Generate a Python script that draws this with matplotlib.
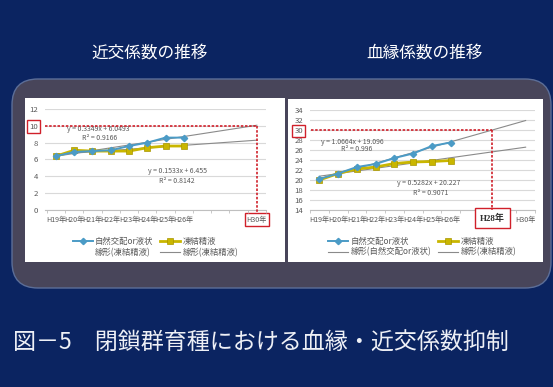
import matplotlib
matplotlib.use("Agg")
import matplotlib.pyplot as plt
from matplotlib.patches import FancyBboxPatch, Rectangle
from matplotlib.lines import Line2D
import numpy as np

plt.rcParams['font.family'] = ['Noto Sans CJK JP', 'DejaVu Sans']

# ---------------- data ----------------
categories = ['H19年', 'H20年', 'H21年', 'H22年', 'H23年', 'H24年', 'H25年', 'H26年',
              '', '', '', 'H30年']
inbreed_natural = [6.4, 6.9, 7.0, 7.1, 7.6, 8.0, 8.6, 8.6]
inbreed_frozen = [6.4, 7.1, 7.0, 7.0, 7.0, 7.4, 7.6, 7.6]
inbreed_trend_natural = (0.3349, 6.0493)
inbreed_trend_frozen = (0.1533, 6.455)
inbreed_yticks = [0, 2, 4, 6, 8, 10, 12]

kin_natural = [20.2, 21.3, 22.6, 23.2, 24.4, 25.3, 26.8, 27.5]
kin_frozen = [20.0, 21.3, 22.2, 22.6, 23.3, 23.6, 23.7, 23.9]
kin_trend_natural = (1.0664, 19.096)
kin_trend_frozen = (0.5282, 20.227)
kin_yticks = [14, 16, 18, 20, 22, 24, 26, 28, 30, 32, 34]

inbreed_target = 10
kin_target = 30

W, H = 553, 387
fig = plt.figure(figsize=(W / 100, H / 100), dpi=100)
fig.patch.set_facecolor('#0b2461')

# background axes in pixel units
bg = fig.add_axes([0, 0, 1, 1])
bg.set_xlim(0, W)
bg.set_ylim(H, 0)
bg.axis('off')
bg.add_patch(FancyBboxPatch((12, 79), 539, 209,
                            boxstyle='round,pad=0,rounding_size=26',
                            fc='#48455a', ec='#5c6e98', lw=1.0))
bg.add_patch(Rectangle((25, 98), 260, 164, fc='white', ec='none'))
bg.add_patch(Rectangle((288, 99), 255, 163, fc='white', ec='none'))
bg.text(150, 53, '近交係数の推移', color='white', fontsize=12, ha='center', va='center')
bg.text(425, 53, '血縁係数の推移', color='white', fontsize=12, ha='center', va='center')
bg.text(13, 343, '図－5　閉鎖群育種における血縁・近交係数抑制', color='#eef0f6',
        fontsize=16.6, ha='left', va='center')


def px_axes(x0, x1, ytop, ybot):
    return fig.add_axes([x0 / W, 1 - ybot / H, (x1 - x0) / W, (ybot - ytop) / H])


BLUE = '#4b9bc6'
YELLOW = '#c9b600'
GRAY = '#8a8a8a'
RED = '#d0202a'
TXT = '#595959'
EQ_FS = 5.0


def draw_chart(ax, natural, frozen, tn, tf, yticks, xlim):
    n = len(categories)
    x = np.arange(len(natural))
    xt = np.arange(n)
    ax.set_facecolor('white')
    ax.set_xlim(*xlim)
    ax.set_ylim(yticks[0], yticks[-1])
    ax.set_yticks(yticks)
    ax.set_xticks(xt)
    ax.set_xticklabels(categories)
    ax.set_xticks(np.arange(-0.5, n - 0.4, 1), minor=True)
    ax.grid(axis='y', color='#d9d9d9', lw=0.8)
    ax.set_axisbelow(True)
    for s in ['top', 'right', 'left']:
        ax.spines[s].set_visible(False)
    ax.spines['bottom'].set_color('#bfbfbf')
    ax.spines['bottom'].set_linewidth(0.8)
    ax.tick_params(axis='x', which='major', length=0, labelsize=5.1, labelcolor=TXT, pad=4)
    ax.tick_params(axis='x', which='minor', length=2.5, color='#bfbfbf')
    ax.tick_params(axis='y', length=0, labelsize=5.6, labelcolor=TXT, pad=5)
    lt1, = ax.plot(xt, tn[0] * (xt + 1) + tn[1], color=GRAY, lw=0.8, zorder=2)
    lt2, = ax.plot(xt, tf[0] * (xt + 1) + tf[1], color=GRAY, lw=0.8, zorder=2)
    l1, = ax.plot(x, natural, color=BLUE, lw=1.4, marker='D', ms=3.2,
                  mfc=BLUE, mec=BLUE, zorder=4)
    l2, = ax.plot(x, frozen, color=YELLOW, lw=2.0, marker='s', ms=5.0,
                  mfc=YELLOW, mec='#a89600', mew=0.5, zorder=3)
    return l1, l2, lt1, lt2


# ---------------- left chart ----------------
axL = px_axes(45, 266, 109, 210)
l1, l2, lt1, lt2 = draw_chart(axL, inbreed_natural, inbreed_frozen,
                              inbreed_trend_natural, inbreed_trend_frozen,
                              inbreed_yticks, (-0.6, 11.0))
axL.text(2.34, 9.62, 'y = 0.3349x + 6.0493', fontsize=EQ_FS, color=TXT, ha='center', va='center')
axL.text(2.39, 8.55, 'R² = 0.9166', fontsize=EQ_FS, color=TXT, ha='center', va='center')
axL.text(6.64, 4.63, 'y = 0.1533x + 6.455', fontsize=EQ_FS, color=TXT, ha='center', va='center')
axL.text(6.64, 3.44, 'R² = 0.8142', fontsize=EQ_FS, color=TXT, ha='center', va='center')
axL.plot([-0.6, 11], [inbreed_target, inbreed_target], color=RED, lw=1.2,
         ls=(0, (1.5, 1)), clip_on=False, zorder=5)
axL.plot([11, 11], [inbreed_target, -0.5], color=RED, lw=1.2,
         ls=(0, (1.5, 1)), clip_on=False, zorder=5)
for t in axL.get_yticklabels():
    if t.get_text() == str(inbreed_target):
        t.set_bbox(dict(boxstyle='square,pad=0.3', fc='white', ec=RED, lw=1.0))
for t in axL.get_xticklabels():
    if t.get_text() == 'H30年':
        t.set_bbox(dict(boxstyle='square,pad=0.3', fc='white', ec=RED, lw=1.0))
blank = Line2D([], [], color='none')
axL.legend([l1, blank, l2, lt2],
           ['自然交配or液状', '線形(凍結精液)', '凍結精液', '線形(凍結精液)'],
           ncol=2, loc='upper center', bbox_to_anchor=(0.5, -0.19), frameon=False,
           fontsize=6, handlelength=2.4, columnspacing=0.8, labelspacing=0.25,
           handletextpad=0.3, labelcolor=TXT)

# ---------------- right chart ----------------
axR = px_axes(310, 535, 110, 210)
r1, r2, rt1, rt2 = draw_chart(axR, kin_natural, kin_frozen,
                              kin_trend_natural, kin_trend_frozen,
                              kin_yticks, (-0.45, 11.3))
axR.text(1.74, 27.6, 'y = 1.0664x + 19.096', fontsize=EQ_FS, color=TXT, ha='center', va='center')
axR.text(2.0, 26.2, 'R² = 0.996', fontsize=EQ_FS, color=TXT, ha='center', va='center')
axR.text(5.82, 19.4, 'y = 0.5282x + 20.227', fontsize=EQ_FS, color=TXT, ha='center', va='center')
axR.text(5.92, 17.4, 'R² = 0.9071', fontsize=EQ_FS, color=TXT, ha='center', va='center')
x_hit = (kin_target - kin_trend_natural[1]) / kin_trend_natural[0] - 1
axR.plot([-0.45, x_hit], [kin_target, kin_target], color=RED, lw=1.2,
         ls=(0, (1.5, 1)), clip_on=False, zorder=5)
axR.plot([x_hit, x_hit], [kin_target, 14], color=RED, lw=1.2,
         ls=(0, (1.5, 1)), clip_on=False, zorder=5)
axR.text(x_hit, 12.4, 'H28年', fontsize=6.5, fontweight='bold', color='#333333',
         family=['Liberation Serif', 'Noto Sans CJK JP'], ha='center', va='center',
         bbox=dict(boxstyle='square,pad=0.55', fc='white', ec=RED, lw=1.0))
for t in axR.get_yticklabels():
    if t.get_text() == str(kin_target):
        t.set_bbox(dict(boxstyle='square,pad=0.25', fc='white', ec=RED, lw=1.0))
axR.legend([r1, rt1, r2, rt2],
           ['自然交配or液状', '線形(自然交配or液状)', '凍結精液', '線形(凍結精液)'],
           ncol=2, loc='upper center', bbox_to_anchor=(0.5, -0.19), frameon=False,
           fontsize=6, handlelength=2.4, columnspacing=0.8, labelspacing=0.25,
           handletextpad=0.3, labelcolor=TXT)

fig.savefig('out.png', dpi=100, facecolor=fig.get_facecolor())
